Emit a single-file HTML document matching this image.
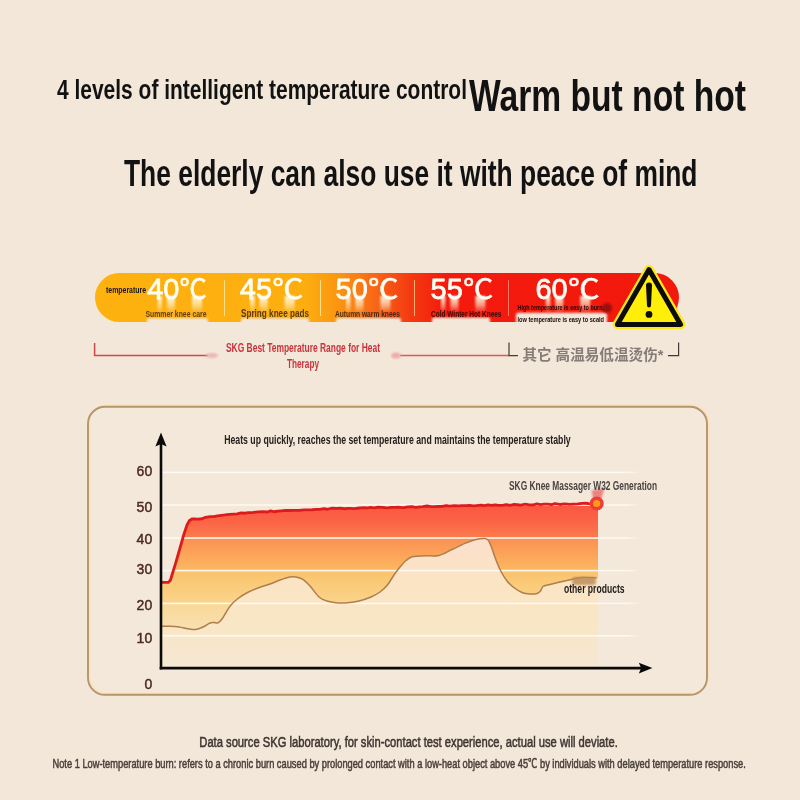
<!DOCTYPE html>
<html lang="en"><head><meta charset="utf-8"><title>4 levels of intelligent temperature control</title>
<style>
html,body{margin:0;padding:0;background:#f3e7d9;}
body{width:800px;height:800px;overflow:hidden;}
svg{display:block;}
</style></head><body>
<svg width="800" height="800" viewBox="0 0 800 800">
<defs>
<linearGradient id="bar" x1="95" y1="0" x2="679" y2="0" gradientUnits="userSpaceOnUse">
<stop offset="0" stop-color="#fdb20f"/>
<stop offset="0.36" stop-color="#fdae0f"/>
<stop offset="0.42" stop-color="#fb9312"/>
<stop offset="0.48" stop-color="#f86616"/>
<stop offset="0.54" stop-color="#f43a12"/>
<stop offset="0.60" stop-color="#f41a0c"/>
<stop offset="1" stop-color="#f3180c"/>
</linearGradient>
<linearGradient id="fill" x1="0" y1="505" x2="0" y2="668" gradientUnits="userSpaceOnUse">
<stop offset="0" stop-color="#fb5640"/>
<stop offset="0.10" stop-color="#fb6446"/>
<stop offset="0.20" stop-color="#fb7c4c"/>
<stop offset="0.205" stop-color="#fb9052"/>
<stop offset="0.40" stop-color="#fbb860"/>
<stop offset="0.405" stop-color="#fbc36c"/>
<stop offset="0.60" stop-color="#fad48a"/>
<stop offset="0.605" stop-color="#f9d896"/>
<stop offset="0.80" stop-color="#f8e2b8"/>
<stop offset="0.805" stop-color="#f7e4c2"/>
<stop offset="1" stop-color="#f5e6d0"/>
</linearGradient>
<linearGradient id="under" x1="0" y1="540" x2="0" y2="668" gradientUnits="userSpaceOnUse">
<stop offset="0" stop-color="#fbdfcc"/>
<stop offset="0.3" stop-color="#fbe4c4"/>
<stop offset="0.6" stop-color="#f9e6c4"/>
<stop offset="1" stop-color="#f5e7d2"/>
</linearGradient>
<linearGradient id="gridfade" x1="162" y1="0" x2="640" y2="0" gradientUnits="userSpaceOnUse">
<stop offset="0" stop-color="#fdf8f1" stop-opacity="1"/>
<stop offset="0.975" stop-color="#fdf8f1" stop-opacity="1"/>
<stop offset="1" stop-color="#fdf8f1" stop-opacity="0"/>
</linearGradient>
<linearGradient id="streak" x1="0" y1="296" x2="0" y2="313" gradientUnits="userSpaceOnUse">
<stop offset="0" stop-color="#fffbe8" stop-opacity="0.95"/>
<stop offset="0.5" stop-color="#fff6d8" stop-opacity="0.6"/>
<stop offset="1" stop-color="#fff6d8" stop-opacity="0"/>
</linearGradient>
<filter id="b1" x="-20%" y="-20%" width="140%" height="140%"><feGaussianBlur stdDeviation="1.2"/></filter>
<filter id="b2" x="-50%" y="-50%" width="200%" height="200%"><feGaussianBlur stdDeviation="2"/></filter>
</defs>
<rect width="800" height="800" fill="#f3e7d9"/>

<text x="57" y="98.8" font-size="28.2" font-weight="bold" fill="#121212" text-anchor="start" textLength="410" lengthAdjust="spacingAndGlyphs" font-family="'Liberation Sans', sans-serif" >4 levels of intelligent temperature control</text>
<text x="469" y="111" font-size="45" font-weight="bold" fill="#121212" text-anchor="start" textLength="277" lengthAdjust="spacingAndGlyphs" font-family="'Liberation Sans', sans-serif" >Warm but not hot</text>
<text x="124" y="186.2" font-size="37.5" font-weight="bold" fill="#121212" text-anchor="start" textLength="573.5" lengthAdjust="spacingAndGlyphs" font-family="'Liberation Sans', sans-serif" >The elderly can also use it with peace of mind</text>
<rect x="95" y="273" width="584" height="49" rx="24.5" fill="url(#bar)"/>
<rect x="147" y="318.3" width="61" height="5.699999999999989" rx="2" fill="#f3e7d9" filter="url(#b1)"/>
<rect x="241" y="318.3" width="68" height="5.699999999999989" rx="2" fill="#f3e7d9" filter="url(#b1)"/>
<rect x="336" y="318" width="65" height="6" rx="2" fill="#f3e7d9" filter="url(#b1)"/>
<rect x="432" y="317.5" width="58" height="6.5" rx="2" fill="#f3e7d9" filter="url(#b1)"/>
<rect x="516" y="312.8" width="91" height="11.199999999999989" rx="2" fill="#f3e7d9" filter="url(#b1)"/>
<rect x="224.0" y="280" width="1" height="36" fill="#fde08a"/>
<rect x="320.0" y="280" width="1" height="36" fill="#fde08a"/>
<rect x="414.0" y="280" width="1" height="36" fill="#fbb070"/>
<rect x="508.0" y="280" width="1" height="36" fill="#f7776a"/>
<rect x="157.5" y="296" width="4.5" height="17" fill="url(#streak)" filter="url(#b1)"/>
<rect x="167" y="296" width="8" height="17" fill="url(#streak)" filter="url(#b1)"/>
<rect x="192" y="296" width="10" height="17" fill="url(#streak)" filter="url(#b1)"/>
<text x="147.2" y="298.6" font-size="29.5" font-weight="normal" fill="#fffdf4" text-anchor="start" textLength="32.2" lengthAdjust="spacingAndGlyphs" font-family="'Liberation Sans', sans-serif" stroke="#fffdf4" stroke-width="0.8">40</text>
<text x="179.6" y="298.8" font-size="27.5" font-weight="normal" fill="#fffdf4" text-anchor="start" textLength="27.4" lengthAdjust="spacingAndGlyphs" font-family="'Liberation Sans', 'Noto Sans CJK SC', sans-serif" stroke="#fffdf4" stroke-width="0.5">℃</text>
<rect x="250.1" y="296" width="4.5" height="17" fill="url(#streak)" filter="url(#b1)"/>
<rect x="259.6" y="296" width="8" height="17" fill="url(#streak)" filter="url(#b1)"/>
<rect x="284.6" y="296" width="10" height="17" fill="url(#streak)" filter="url(#b1)"/>
<text x="239.79999999999998" y="298.6" font-size="29.5" font-weight="normal" fill="#fffdf4" text-anchor="start" textLength="32.2" lengthAdjust="spacingAndGlyphs" font-family="'Liberation Sans', sans-serif" stroke="#fffdf4" stroke-width="0.8">45</text>
<text x="272.2" y="298.8" font-size="27.5" font-weight="normal" fill="#fffdf4" text-anchor="start" textLength="31.19999999999998" lengthAdjust="spacingAndGlyphs" font-family="'Liberation Sans', 'Noto Sans CJK SC', sans-serif" stroke="#fffdf4" stroke-width="0.5">℃</text>
<rect x="345.9" y="296" width="4.5" height="17" fill="url(#streak)" filter="url(#b1)"/>
<rect x="355.4" y="296" width="8" height="17" fill="url(#streak)" filter="url(#b1)"/>
<rect x="380.4" y="296" width="10" height="17" fill="url(#streak)" filter="url(#b1)"/>
<text x="335.59999999999997" y="298.6" font-size="29.5" font-weight="normal" fill="#fffdf4" text-anchor="start" textLength="32.2" lengthAdjust="spacingAndGlyphs" font-family="'Liberation Sans', sans-serif" stroke="#fffdf4" stroke-width="0.8">50</text>
<text x="368.0" y="298.8" font-size="27.5" font-weight="normal" fill="#fffdf4" text-anchor="start" textLength="30.600000000000044" lengthAdjust="spacingAndGlyphs" font-family="'Liberation Sans', 'Noto Sans CJK SC', sans-serif" stroke="#fffdf4" stroke-width="0.5">℃</text>
<rect x="440.9" y="296" width="4.5" height="17" fill="url(#streak)" filter="url(#b1)"/>
<rect x="450.4" y="296" width="8" height="17" fill="url(#streak)" filter="url(#b1)"/>
<rect x="475.4" y="296" width="10" height="17" fill="url(#streak)" filter="url(#b1)"/>
<text x="430.59999999999997" y="298.6" font-size="29.5" font-weight="normal" fill="#fffdf4" text-anchor="start" textLength="32.2" lengthAdjust="spacingAndGlyphs" font-family="'Liberation Sans', sans-serif" stroke="#fffdf4" stroke-width="0.8">55</text>
<text x="463.0" y="298.8" font-size="27.5" font-weight="normal" fill="#fffdf4" text-anchor="start" textLength="30.4" lengthAdjust="spacingAndGlyphs" font-family="'Liberation Sans', 'Noto Sans CJK SC', sans-serif" stroke="#fffdf4" stroke-width="0.5">℃</text>
<rect x="545.8" y="296" width="4.5" height="17" fill="url(#streak)" filter="url(#b1)"/>
<rect x="555.3" y="296" width="8" height="17" fill="url(#streak)" filter="url(#b1)"/>
<rect x="580.3" y="296" width="10" height="17" fill="url(#streak)" filter="url(#b1)"/>
<text x="535.5" y="298.6" font-size="29.5" font-weight="normal" fill="#fffdf4" text-anchor="start" textLength="32.2" lengthAdjust="spacingAndGlyphs" font-family="'Liberation Sans', sans-serif" stroke="#fffdf4" stroke-width="0.8">60</text>
<text x="567.9" y="298.8" font-size="27.5" font-weight="normal" fill="#fffdf4" text-anchor="start" textLength="31.700000000000067" lengthAdjust="spacingAndGlyphs" font-family="'Liberation Sans', 'Noto Sans CJK SC', sans-serif" stroke="#fffdf4" stroke-width="0.5">℃</text>
<text x="106" y="293" font-size="9.5" font-weight="bold" fill="#1a1208" text-anchor="start" textLength="40" lengthAdjust="spacingAndGlyphs" font-family="'Liberation Sans', sans-serif" >temperature</text>
<text x="145.5" y="316.6" font-size="9.6" font-weight="bold" fill="#5e3f10" text-anchor="start" textLength="61" lengthAdjust="spacingAndGlyphs" font-family="'Liberation Sans', sans-serif" >Summer knee care</text>
<text x="241" y="316.6" font-size="11" font-weight="bold" fill="#5a3a10" text-anchor="start" textLength="68" lengthAdjust="spacingAndGlyphs" font-family="'Liberation Sans', sans-serif" >Spring knee pads</text>
<text x="335" y="316.6" font-size="8.5" font-weight="bold" fill="#4a2a10" text-anchor="start" textLength="65" lengthAdjust="spacingAndGlyphs" font-family="'Liberation Sans', sans-serif" >Autumn warm knees</text>
<text x="431" y="316.6" font-size="8.5" font-weight="bold" fill="#3a0c08" text-anchor="start" textLength="70.5" lengthAdjust="spacingAndGlyphs" font-family="'Liberation Sans', sans-serif" >Cold Winter Hot Knees</text>
<text x="517.5" y="310.3" font-size="7" font-weight="bold" fill="#1a0a0a" text-anchor="start" textLength="86.5" lengthAdjust="spacingAndGlyphs" font-family="'Liberation Sans', sans-serif" >High temperature is easy to burn,</text>
<text x="517.5" y="322" font-size="7" font-weight="bold" fill="#1a0a0a" text-anchor="start" textLength="86.5" lengthAdjust="spacingAndGlyphs" font-family="'Liberation Sans', sans-serif" >low temperature is easy to scald</text>
<ellipse cx="607" cy="308" rx="5" ry="5" fill="#7a1010" opacity="0.75" filter="url(#b1)"/>
<path d="M649 269.6 L680.6 324.4 L617.4 324.4 Z" fill="#ffef0a" stroke="#ffe81a" stroke-width="9.6" stroke-linejoin="round"/>
<path d="M649 269.6 L680.6 324.4 L617.4 324.4 Z" fill="#ffee08" stroke="#0c0c0c" stroke-width="5" stroke-linejoin="round"/>
<path d="M646 285.6 a3 3 0 0 1 6 0 L651 305.6 a2 2 0 0 1 -4 0 Z" fill="#0c0c0c"/>
<circle cx="649" cy="314.4" r="3.4" fill="#0c0c0c"/>
<path d="M94.6 343 V355.6 H208" fill="none" stroke="#d2474c" stroke-width="1.5"/>
<ellipse cx="212" cy="355.6" rx="6" ry="2.5" fill="#eeb4b4" filter="url(#b1)"/>
<path d="M400 355.6 H509" fill="none" stroke="#dc5a5e" stroke-width="1.5"/>
<ellipse cx="396" cy="355.6" rx="5" ry="3" fill="#f0aaaa" filter="url(#b1)"/>
<path d="M509 342.6 V355.6 H518" fill="none" stroke="#453a3a" stroke-width="1.2"/>
<path d="M668 355.6 H678.6 V342.6" fill="none" stroke="#453a3a" stroke-width="1.2"/>
<text x="226" y="352" font-size="12.5" font-weight="bold" fill="#c9343c" text-anchor="start" textLength="154" lengthAdjust="spacingAndGlyphs" font-family="'Liberation Sans', sans-serif" >SKG Best Temperature Range for Heat</text>
<text x="287" y="367.5" font-size="12.5" font-weight="bold" fill="#c9343c" text-anchor="start" textLength="32" lengthAdjust="spacingAndGlyphs" font-family="'Liberation Sans', sans-serif" >Therapy</text>
<text x="522.4" y="359.8" font-size="14.5" font-weight="bold" fill="#857b77" text-anchor="start" textLength="141" lengthAdjust="spacingAndGlyphs" font-family="'Liberation Sans', 'Noto Sans CJK SC', sans-serif" >其它 高温易低温烫伤*</text>
<rect x="88" y="406.8" width="619" height="288" rx="17" fill="#f4e8da"/>
<rect x="89.7" y="405.2" width="619" height="288" rx="17" fill="none" stroke="#fce2c2" stroke-width="1.8"/>
<rect x="88" y="406.8" width="619" height="288" rx="17" fill="none" stroke="#b4966c" stroke-width="1.9"/>
<path d="M162 582.4 L168.5 582.4 L170.5 580 L172 575 L176 562 L180 548 L184 534 L187 525 L189.5 520.5 L192 519 L194 518.8 L198.1 519.2 L202.3 518.75 L205.4 517.32 L210.1 516.56 L213.6 516.67 L217.5 515.9 L221.5 515.27 L224.8 514.94 L229.5 514.33 L234.0 514.06 L237.1 513.85 L241.3 512.88 L244.4 513.25 L248.3 512.72 L253.1 512.48 L257.9 511.86 L262.5 511.69 L267.4 511.98 L270.6 510.93 L274.0 511.75 L277.9 511.16 L281.5 510.83 L285.2 510.45 L289.4 510.52 L294.2 510.4 L299.1 510.36 L304.1 509.88 L307.4 509.94 L312.3 509.74 L316.5 509.39 L319.9 509.43 L324.0 508.65 L327.2 509.25 L332.1 508.18 L336.7 508.43 L340.0 508.2 L344.6 508.76 L347.7 508.38 L350.8 508.44 L354.4 508.55 L359.4 508.0 L364.4 507.65 L367.5 507.93 L370.6 507.39 L374.4 507.8 L377.7 507.05 L382.5 507.29 L387.4 507.89 L391.1 507.3 L395.2 507.45 L399.4 507.27 L403.6 507.65 L407.6 506.96 L412.1 506.63 L415.7 507.43 L419.7 506.82 L422.7 506.58 L426.9 506.0 L431.1 506.63 L434.2 506.55 L438.2 506.51 L441.9 506.45 L446.3 505.52 L449.5 506.22 L454.4 505.61 L458.3 505.95 L461.9 505.6 L465.6 505.53 L469.8 505.37 L473.5 505.86 L476.6 505.55 L481.0 505.15 L484.5 505.67 L488.0 504.87 L491.8 505.4 L495.0 504.89 L498.7 505.43 L502.6 505.39 L505.9 504.71 L510.2 505.3 L514.1 504.44 L517.4 504.76 L520.8 505.04 L525.4 504.21 L529.0 504.9 L533.3 504.84 L537.0 503.96 L540.5 504.7 L544.1 504.11 L547.9 504.14 L551.7 504.67 L555.0 503.52 L559.9 504.49 L564.9 503.87 L569.8 504.37 L573.3 504.1 L577.9 503.92 L582.0 503.4 L585.6 503.26 L588.8 503.64 L592.4 503.85 L595.4 503.9 L596.6 503.4 L598 503.4 L598 668 L162 668 Z" fill="url(#fill)"/>
<path d="M162 626.3 C163.33 626.28 167.12 626.10 170 626.2 C172.88 626.30 176.25 626.47 179.25 626.9 C182.25 627.33 185.29 628.37 188 628.8 C190.71 629.23 193.00 629.80 195.5 629.5 C198.00 629.20 200.58 628.08 203 627 C205.42 625.92 208.17 623.75 210 623 C211.83 622.25 212.67 622.53 214 622.5 C215.33 622.47 216.67 623.38 218 622.8 C219.33 622.22 220.67 620.72 222 619 C223.33 617.28 224.50 614.83 226 612.5 C227.50 610.17 229.00 607.33 231 605 C233.00 602.67 235.25 600.58 238 598.5 C240.75 596.42 244.17 594.25 247.5 592.5 C250.83 590.75 254.25 589.42 258 588 C261.75 586.58 266.33 585.33 270 584 C273.67 582.67 276.71 581.17 280 580 C283.29 578.83 287.08 577.50 289.75 577 C292.42 576.50 293.83 576.62 296 577 C298.17 577.38 300.42 577.80 302.75 579.3 C305.08 580.80 307.29 583.05 310 586 C312.71 588.95 316.17 594.50 319 597 C321.83 599.50 324.17 600.03 327 601 C329.83 601.97 333.00 602.47 336 602.8 C339.00 603.13 341.33 603.25 345 603 C348.67 602.75 353.67 602.30 358 601.3 C362.33 600.30 367.33 598.55 371 597 C374.67 595.45 377.33 593.90 380 592 C382.67 590.10 384.67 588.43 387 585.6 C389.33 582.77 391.83 578.10 394 575 C396.17 571.90 398.00 569.42 400 567 C402.00 564.58 403.83 562.23 406 560.5 C408.17 558.77 409.83 557.38 413 556.6 C416.17 555.82 420.67 556.00 425 555.8 C429.33 555.60 434.50 556.45 439 555.4 C443.50 554.35 447.67 551.50 452 549.5 C456.33 547.50 461.00 545.07 465 543.4 C469.00 541.73 472.75 540.32 476 539.5 C479.25 538.68 482.50 538.42 484.5 538.5 C486.50 538.58 486.92 538.75 488 540 C489.08 541.25 489.67 542.67 491 546 C492.33 549.33 494.38 555.83 496 560 C497.62 564.17 498.92 567.50 500.75 571 C502.58 574.50 504.83 578.25 507 581 C509.17 583.75 511.25 585.58 513.75 587.5 C516.25 589.42 519.29 591.42 522 592.5 C524.71 593.58 527.50 593.83 530 594 C532.50 594.17 535.25 594.00 537 593.5 C538.75 593.00 539.50 592.17 540.5 591 C541.50 589.83 541.42 587.58 543 586.5 C544.58 585.42 547.17 585.25 550 584.5 C552.83 583.75 556.83 582.75 560 582 C563.17 581.25 565.33 580.75 569 580 C572.67 579.25 577.40 577.83 582 577.5 C586.60 577.17 594.17 577.92 596.6 578 L598 578 L598 668 L162 668 Z" fill="url(#under)"/>
<rect x="162" y="471.59999999999997" width="478" height="1.6" fill="url(#gridfade)"/>
<rect x="162" y="504.2" width="478" height="1.6" fill="url(#gridfade)"/>
<rect x="162" y="537.2" width="478" height="1.6" fill="url(#gridfade)"/>
<rect x="162" y="569.8000000000001" width="478" height="1.6" fill="url(#gridfade)"/>
<rect x="162" y="602.6" width="478" height="1.6" fill="url(#gridfade)"/>
<rect x="162" y="635.0" width="478" height="1.6" fill="url(#gridfade)"/>
<path d="M162 626.3 C163.33 626.28 167.12 626.10 170 626.2 C172.88 626.30 176.25 626.47 179.25 626.9 C182.25 627.33 185.29 628.37 188 628.8 C190.71 629.23 193.00 629.80 195.5 629.5 C198.00 629.20 200.58 628.08 203 627 C205.42 625.92 208.17 623.75 210 623 C211.83 622.25 212.67 622.53 214 622.5 C215.33 622.47 216.67 623.38 218 622.8 C219.33 622.22 220.67 620.72 222 619 C223.33 617.28 224.50 614.83 226 612.5 C227.50 610.17 229.00 607.33 231 605 C233.00 602.67 235.25 600.58 238 598.5 C240.75 596.42 244.17 594.25 247.5 592.5 C250.83 590.75 254.25 589.42 258 588 C261.75 586.58 266.33 585.33 270 584 C273.67 582.67 276.71 581.17 280 580 C283.29 578.83 287.08 577.50 289.75 577 C292.42 576.50 293.83 576.62 296 577 C298.17 577.38 300.42 577.80 302.75 579.3 C305.08 580.80 307.29 583.05 310 586 C312.71 588.95 316.17 594.50 319 597 C321.83 599.50 324.17 600.03 327 601 C329.83 601.97 333.00 602.47 336 602.8 C339.00 603.13 341.33 603.25 345 603 C348.67 602.75 353.67 602.30 358 601.3 C362.33 600.30 367.33 598.55 371 597 C374.67 595.45 377.33 593.90 380 592 C382.67 590.10 384.67 588.43 387 585.6 C389.33 582.77 391.83 578.10 394 575 C396.17 571.90 398.00 569.42 400 567 C402.00 564.58 403.83 562.23 406 560.5 C408.17 558.77 409.83 557.38 413 556.6 C416.17 555.82 420.67 556.00 425 555.8 C429.33 555.60 434.50 556.45 439 555.4 C443.50 554.35 447.67 551.50 452 549.5 C456.33 547.50 461.00 545.07 465 543.4 C469.00 541.73 472.75 540.32 476 539.5 C479.25 538.68 482.50 538.42 484.5 538.5 C486.50 538.58 486.92 538.75 488 540 C489.08 541.25 489.67 542.67 491 546 C492.33 549.33 494.38 555.83 496 560 C497.62 564.17 498.92 567.50 500.75 571 C502.58 574.50 504.83 578.25 507 581 C509.17 583.75 511.25 585.58 513.75 587.5 C516.25 589.42 519.29 591.42 522 592.5 C524.71 593.58 527.50 593.83 530 594 C532.50 594.17 535.25 594.00 537 593.5 C538.75 593.00 539.50 592.17 540.5 591 C541.50 589.83 541.42 587.58 543 586.5 C544.58 585.42 547.17 585.25 550 584.5 C552.83 583.75 556.83 582.75 560 582 C563.17 581.25 565.33 580.75 569 580 C572.67 579.25 577.40 577.83 582 577.5 C586.60 577.17 594.17 577.92 596.6 578" fill="none" stroke="#ad7f4c" stroke-width="1.5"/>
<path d="M162 582.4 L168.5 582.4 L170.5 580 L172 575 L176 562 L180 548 L184 534 L187 525 L189.5 520.5 L192 519 L194 518.8 L198.1 519.2 L202.3 518.75 L205.4 517.32 L210.1 516.56 L213.6 516.67 L217.5 515.9 L221.5 515.27 L224.8 514.94 L229.5 514.33 L234.0 514.06 L237.1 513.85 L241.3 512.88 L244.4 513.25 L248.3 512.72 L253.1 512.48 L257.9 511.86 L262.5 511.69 L267.4 511.98 L270.6 510.93 L274.0 511.75 L277.9 511.16 L281.5 510.83 L285.2 510.45 L289.4 510.52 L294.2 510.4 L299.1 510.36 L304.1 509.88 L307.4 509.94 L312.3 509.74 L316.5 509.39 L319.9 509.43 L324.0 508.65 L327.2 509.25 L332.1 508.18 L336.7 508.43 L340.0 508.2 L344.6 508.76 L347.7 508.38 L350.8 508.44 L354.4 508.55 L359.4 508.0 L364.4 507.65 L367.5 507.93 L370.6 507.39 L374.4 507.8 L377.7 507.05 L382.5 507.29 L387.4 507.89 L391.1 507.3 L395.2 507.45 L399.4 507.27 L403.6 507.65 L407.6 506.96 L412.1 506.63 L415.7 507.43 L419.7 506.82 L422.7 506.58 L426.9 506.0 L431.1 506.63 L434.2 506.55 L438.2 506.51 L441.9 506.45 L446.3 505.52 L449.5 506.22 L454.4 505.61 L458.3 505.95 L461.9 505.6 L465.6 505.53 L469.8 505.37 L473.5 505.86 L476.6 505.55 L481.0 505.15 L484.5 505.67 L488.0 504.87 L491.8 505.4 L495.0 504.89 L498.7 505.43 L502.6 505.39 L505.9 504.71 L510.2 505.3 L514.1 504.44 L517.4 504.76 L520.8 505.04 L525.4 504.21 L529.0 504.9 L533.3 504.84 L537.0 503.96 L540.5 504.7 L544.1 504.11 L547.9 504.14 L551.7 504.67 L555.0 503.52 L559.9 504.49 L564.9 503.87 L569.8 504.37 L573.3 504.1 L577.9 503.92 L582.0 503.4 L585.6 503.26 L588.8 503.64 L592.4 503.85 L595.4 503.9 L596.6 503.4" fill="none" stroke="#dc1c1c" stroke-width="2.8" stroke-linejoin="round" stroke-linecap="round"/>
<rect x="572" y="577" width="24" height="8" rx="3" fill="#b98a54" opacity="0.8" filter="url(#b1)"/>
<path d="M593.5 501 L591.5 490.5 L604.5 488 L600.5 501 Z" fill="#e66a6a" opacity="0.8" filter="url(#b1)"/>
<circle cx="596.7" cy="503.5" r="5.3" fill="#fb9a18" stroke="#ee3c38" stroke-width="3.4"/>
<path d="M161 669.4 V443" fill="none" stroke="#0a0a0a" stroke-width="2.6"/>
<path d="M161 432.4 L166.6 446.5 L161 444 L155.4 446.5 Z" fill="#0a0a0a"/>
<path d="M159.7 668.1 H642" fill="none" stroke="#0a0a0a" stroke-width="2.6"/>
<path d="M652.4 668.1 L638.8 673.4 L641.2 668.1 L638.8 662.8 Z" fill="#0a0a0a"/>
<text x="152.2" y="476" font-size="14" font-weight="normal" fill="#4a2a22" text-anchor="end" font-family="'Liberation Sans', sans-serif" stroke="#4a2a22" stroke-width="0.45">60</text>
<text x="152.2" y="511.6" font-size="14" font-weight="normal" fill="#4a2a22" text-anchor="end" font-family="'Liberation Sans', sans-serif" stroke="#4a2a22" stroke-width="0.45">50</text>
<text x="152.2" y="544.4" font-size="14" font-weight="normal" fill="#4a2a22" text-anchor="end" font-family="'Liberation Sans', sans-serif" stroke="#4a2a22" stroke-width="0.45">40</text>
<text x="152.2" y="574.4" font-size="14" font-weight="normal" fill="#4a2a22" text-anchor="end" font-family="'Liberation Sans', sans-serif" stroke="#4a2a22" stroke-width="0.45">30</text>
<text x="152.2" y="610.4" font-size="14" font-weight="normal" fill="#4a2a22" text-anchor="end" font-family="'Liberation Sans', sans-serif" stroke="#4a2a22" stroke-width="0.45">20</text>
<text x="152.2" y="643" font-size="14" font-weight="normal" fill="#4a2a22" text-anchor="end" font-family="'Liberation Sans', sans-serif" stroke="#4a2a22" stroke-width="0.45">10</text>
<text x="152.2" y="688.6" font-size="14" font-weight="normal" fill="#4a2a22" text-anchor="end" font-family="'Liberation Sans', sans-serif" stroke="#4a2a22" stroke-width="0.45">0</text>
<text x="224.2" y="444.2" font-size="12.4" font-weight="bold" fill="#26211f" text-anchor="start" textLength="346.5" lengthAdjust="spacingAndGlyphs" font-family="'Liberation Sans', sans-serif" >Heats up quickly, reaches the set temperature and maintains the temperature stably</text>
<text x="509" y="489.6" font-size="12.4" font-weight="bold" fill="#4a4442" text-anchor="start" textLength="148" lengthAdjust="spacingAndGlyphs" font-family="'Liberation Sans', sans-serif" >SKG Knee Massager W32 Generation</text>
<text x="564" y="592.8" font-size="12.8" font-weight="bold" fill="#1e1a18" text-anchor="start" textLength="60.6" lengthAdjust="spacingAndGlyphs" font-family="'Liberation Sans', sans-serif" >other products</text>
<text x="199.3" y="746.8" font-size="15.2" font-weight="normal" fill="#3f3631" text-anchor="start" textLength="418.5" lengthAdjust="spacingAndGlyphs" font-family="'Liberation Sans', sans-serif" stroke="#3f3631" stroke-width="0.55">Data source SKG laboratory, for skin-contact test experience, actual use will deviate.</text>
<text x="52.5" y="767.5" font-size="12.2" font-weight="normal" fill="#4a403a" text-anchor="start" textLength="693.3" lengthAdjust="spacingAndGlyphs" font-family="'Liberation Sans', 'Noto Sans CJK SC', sans-serif" stroke="#4a403a" stroke-width="0.5">Note 1 Low-temperature burn: refers to a chronic burn caused by prolonged contact with a low-heat object above 45℃ by individuals with delayed temperature response.</text>
</svg></body></html>
